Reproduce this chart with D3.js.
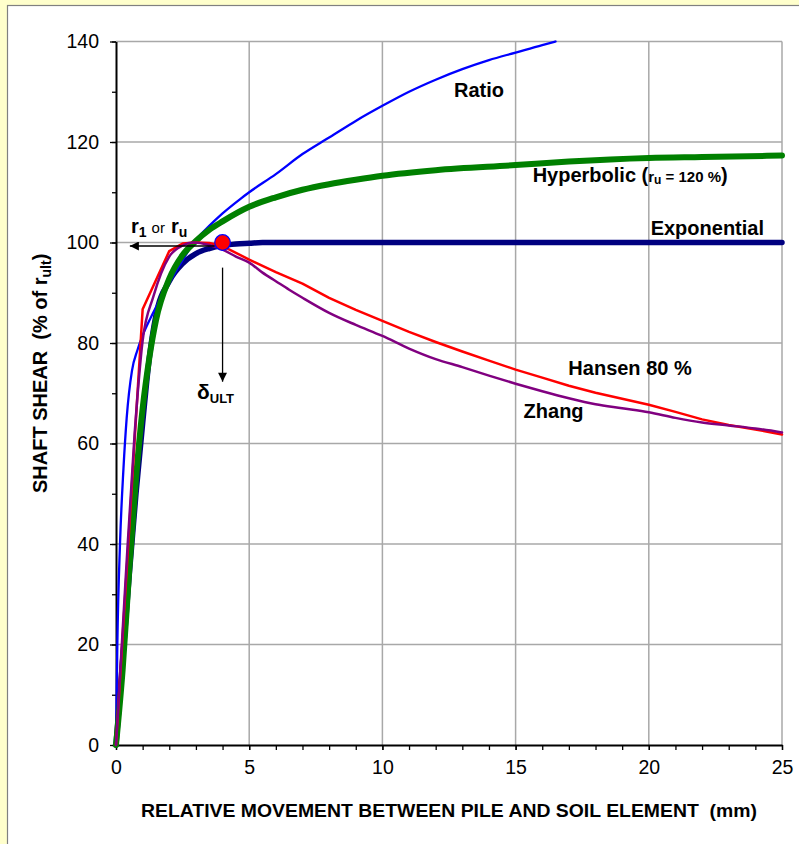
<!DOCTYPE html>
<html>
<head>
<meta charset="utf-8">
<script src="https://cdn.jsdelivr.net/npm/d3@7"></script>
<style>
  html, body { margin: 0; padding: 0; background: #FFFFCC; }
  svg { display: block; }
  text { font-family: "Liberation Sans", Arial, Helvetica, sans-serif; }
</style>
</head>
<body>
<svg id="chart" width="799" height="844"></svg>
<script>
// Shaft shear (% of r_ult) versus relative pile-soil movement (mm) for five t-z functions
const xTicks = [0, 5, 10, 15, 20, 25];
const yTicks = [0, 20, 40, 60, 80, 100, 120, 140];
const xMinor = d3.range(0, 26, 1);
const yMinor = d3.range(0, 141, 10);

// [movement mm, shear %]
const ratio = [[0,0],[0.05,20],[0.15,40],[0.28,55],[0.4,65],[0.6,74.5],[0.8,78.5],[1,81.5],[1.3,85],[1.65,88.6],[2,92],[2.5,96.5],[3,100.5],[3.5,103.3],[4,105.8],[4.65,108.6],[5,110],[6,113.6],[7,117.6],[7.72,120],[8,120.9],[9,124.2],[10,127.2],[11,130],[12,132.4],[13,134.5],[14,136.3],[15,137.8],[16,139.3],[16.5,140]];
const hyperbolic = [[0,0],[0.25,15],[0.5,35],[0.75,53],[1,67],[1.25,77],[1.5,84.5],[2,92.8],[2.5,97.5],[3,100.3],[3.5,102.5],[4,104.2],[5,107.1],[6,109],[7,110.5],[8,111.6],[9,112.5],[10,113.3],[12,114.4],[15,115.4],[17,116.1],[20,116.8],[22,117],[25,117.3]];
const exponential = [[0,0],[0.25,17],[0.5,34],[0.75,50],[1,64],[1.25,77],[1.5,85.5],[2,92.3],[2.5,95.8],[3,97.8],[3.5,98.8],[4,99.4],[4.5,99.7],[5,99.85],[5.5,100],[25,100]];
const hansen80 = [[0,0],[1,86.7],[2,98.3],[2.5,99.8],[3,100],[3.5,99.9],[4,99.3],[5,96.6],[6,94.1],[7,91.8],[8,89],[9,86.6],[10,84.4],[11,82.2],[12,80.2],[13,78.3],[14,76.5],[15,74.7],[16,73.1],[17,71.5],[18,70.1],[19,68.9],[20,67.7],[21,66.3],[22,64.8],[23,63.7],[24,62.8],[25,61.8]];
const zhang = [[0,0],[0.35,32],[0.7,62],[1,80.5],[1.4,89.2],[2,97.2],[2.5,99.4],[2.9,100],[3.5,99.5],[4,98.6],[4.5,97.2],[5,96],[5.5,94],[6,92.3],[6.5,90.6],[7,89],[8,86],[9,83.6],[10,81.4],[11,78.9],[12,76.8],[13,75.2],[14,73.5],[15,71.9],[16,70.4],[17,69],[18,67.8],[19,67],[20,66.2],[21,65.1],[22,64.2],[23,63.6],[24,63],[25,62.2]];

// ultimate point
const deltaUlt = 4;
const rUlt = 100;

const svg = d3.select("#chart");
const W = 799, H = 844;

// white panel
svg.append("rect").attr("x", 7.5).attr("y", 5.5).attr("width", W + 10).attr("height", H + 10)
  .attr("fill", "#fff").attr("stroke", "#808080").attr("stroke-width", 1.2);

const x = d3.scaleLinear().domain([0, 25]).range([116, 782]);
const y = d3.scaleLinear().domain([0, 140]).range([745, 41.5]);

// grid
const grid = svg.append("g").attr("stroke", "#A8A8A8").attr("stroke-width", 1.5);
grid.selectAll("line.gx").data(xTicks.filter(d => d > 0)).join("line")
  .attr("x1", d => x(d)).attr("x2", d => x(d)).attr("y1", y(0)).attr("y2", y(140));
grid.selectAll("line.gy").data(yTicks.filter(d => d > 0)).join("line")
  .attr("x1", x(0)).attr("x2", x(25)).attr("y1", d => y(d)).attr("y2", d => y(d));

// axes
const fmt = d3.format("d");
svg.append("g").attr("transform", `translate(${x(0)},0)`)
  .call(d3.axisLeft(y).tickValues(yTicks).tickSize(6).tickSizeOuter(0).tickFormat(fmt).tickPadding(11));
svg.append("g").attr("transform", `translate(${x(0)},0)`)
  .call(d3.axisLeft(y).tickValues(yMinor).tickSize(4).tickSizeOuter(0).tickFormat(""))
  .call(g => g.select(".domain").remove());
svg.append("g").attr("transform", `translate(0,${y(0)})`)
  .call(d3.axisBottom(x).tickValues(xTicks).tickSize(5).tickSizeOuter(0).tickFormat(fmt).tickPadding(10));
svg.append("g").attr("transform", `translate(0,${y(0)})`)
  .call(d3.axisBottom(x).tickValues(xMinor).tickSize(5).tickSizeOuter(0).tickFormat(""))
  .call(g => g.select(".domain").remove());

svg.selectAll(".domain").attr("stroke", "#000").attr("stroke-width", 2);
svg.selectAll(".tick line").attr("stroke", "#000").attr("stroke-width", 1.3);
svg.selectAll(".tick text").attr("font-size", 19.5).attr("fill", "#000")
  .attr("font-family", "'Liberation Sans', Arial, sans-serif");

// curves
const line = d3.line().x(d => x(d[0])).y(d => y(d[1])).curve(d3.curveMonotoneX);
const lineStraight = d3.line().x(d => x(d[0])).y(d => y(d[1]));
const series = [
  { data: exponential, color: "#000080", w: 5.5, gen: line },
  { data: ratio, color: "#0000FF", w: 2.3, gen: line },
  { data: hyperbolic, color: "#008000", w: 6, gen: line },
  { data: hansen80, color: "#FF0000", w: 2.5, gen: lineStraight },
  { data: zhang, color: "#800080", w: 2.5, gen: line }
];
svg.append("g").selectAll("path").data(series).join("path")
  .attr("d", s => s.gen(s.data)).attr("fill", "none")
  .attr("stroke", s => s.color).attr("stroke-width", s => s.w)
  .attr("stroke-linejoin", "round").attr("stroke-linecap", "round");

// arrow marker
const defs = svg.append("defs");
defs.append("marker").attr("id", "arrow").attr("viewBox", "0 0 10 10")
  .attr("refX", 10).attr("refY", 5).attr("markerWidth", 11).attr("markerHeight", 9)
  .attr("markerUnits", "userSpaceOnUse").attr("orient", "auto")
  .append("path").attr("d", "M0,0 L10,5 L0,10 Z").attr("fill", "#000");

// ultimate-point arrows
svg.append("line").attr("x1", x(3.7)).attr("y1", y(99.3)).attr("x2", x(0.52)).attr("y2", y(99.3))
  .attr("stroke", "#000").attr("stroke-width", 1.3).attr("marker-end", "url(#arrow)");
svg.append("line").attr("x1", x(deltaUlt)).attr("y1", y(95)).attr("x2", x(deltaUlt)).attr("y2", y(72.3))
  .attr("stroke", "#000").attr("stroke-width", 1.3).attr("marker-end", "url(#arrow)");

// ultimate point marker
svg.append("circle").attr("cx", x(deltaUlt)).attr("cy", y(rUlt)).attr("r", 7.8)
  .attr("fill", "#FF0000").attr("stroke", "#0000FF").attr("stroke-width", 1.2);

// annotations
const r1 = svg.append("text").attr("x", 131).attr("y", 232.5).attr("fill", "#000");
r1.append("tspan").attr("font-weight", "bold").attr("font-size", 20).text("r");
r1.append("tspan").attr("font-weight", "bold").attr("font-size", 14).attr("dy", 4).text("1");
r1.append("tspan").attr("font-size", 15).attr("dy", -4).attr("dx", 5).text("or");
r1.append("tspan").attr("font-weight", "bold").attr("font-size", 20).attr("dx", 6).text("r");
r1.append("tspan").attr("font-weight", "bold").attr("font-size", 14).attr("dy", 4).text("u");

const du = svg.append("text").attr("x", 197).attr("y", 399).attr("fill", "#000").attr("font-weight", "bold");
du.append("tspan").attr("font-size", 21).text("δ");
du.append("tspan").attr("font-size", 13).attr("dy", 3.5).text("ULT");

const lab = (t, xv, yv) => svg.append("text").attr("x", x(xv)).attr("y", y(yv))
  .attr("font-size", 20).attr("font-weight", "bold").attr("fill", "#000").text(t);
lab("Ratio", 12.69, 128.95);
lab("Exponential", 20.07, 101.5);
lab("Hansen 80 %", 16.98, 73.6);
lab("Zhang", 15.3, 65);

const hy = svg.append("text").attr("x", x(15.64)).attr("y", y(112.1)).attr("fill", "#000").attr("font-weight", "bold");
hy.append("tspan").attr("font-size", 20).text("Hyperbolic (");
hy.append("tspan").attr("font-size", 15).text("r");
hy.append("tspan").attr("font-size", 12).attr("dy", 2).text("u");
hy.append("tspan").attr("font-size", 15).attr("dy", -2).style("white-space", "pre").text(" = 120 %");
hy.append("tspan").attr("font-size", 20).text(")");

// axis titles
svg.append("text").attr("x", 141).attr("y", 816.5).attr("font-size", 17.5).attr("font-weight", "bold")
  .attr("fill", "#000").style("white-space", "pre")
  .attr("textLength", 616).attr("lengthAdjust", "spacingAndGlyphs")
  .text("RELATIVE MOVEMENT BETWEEN PILE AND SOIL ELEMENT  (mm)");

const yt = svg.append("text").attr("transform", "translate(47,493) rotate(-90)")
  .attr("font-weight", "bold").attr("fill", "#000").style("white-space", "pre");
yt.append("tspan").attr("font-size", 20).text("SHAFT SHEAR  (% of r");
yt.append("tspan").attr("font-size", 14).attr("dy", 4).text("ult");
yt.append("tspan").attr("font-size", 20).attr("dy", -4).text(")");
</script>
</body>
</html>
